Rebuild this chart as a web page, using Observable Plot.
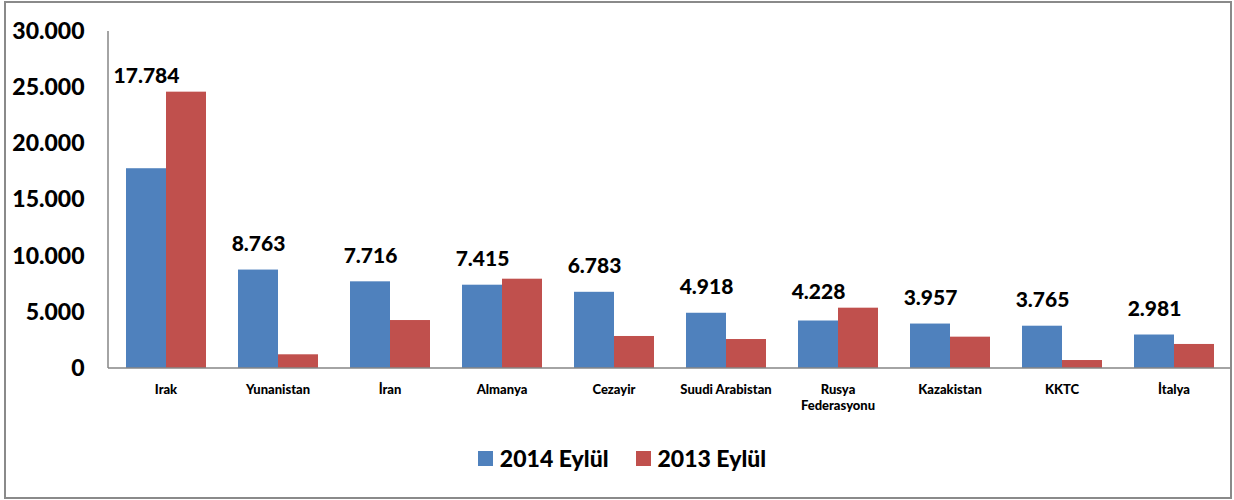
<!DOCTYPE html>
<html>
<head>
<meta charset="utf-8">
<script src="https://cdn.jsdelivr.net/npm/d3@7"></script>
<script src="https://cdn.jsdelivr.net/npm/@observablehq/plot@0.6"></script>
<style>
  body { margin: 0; background: #fff; font-family: Lato, "Open Sans", sans-serif; }
  #wrap { position: relative; width: 1234px; height: 500px; overflow: hidden; }
  #border { position: absolute; left: 4px; top: 1px; width: 1228px; height: 498px; box-sizing: border-box; border: 2px solid #8a8a8a; pointer-events: none; }
  #chart { position: absolute; left: 0; top: 0; }
  #legend { position: absolute; top: 444px; left: 0; width: 1234px; display: flex; justify-content: center; align-items: center; gap: 27px; font: 900 23px Lato, sans-serif; color: #000; padding-left: 10px; box-sizing: border-box; }
  .item { display: flex; align-items: center; gap: 7px; }
  .sw { width: 15px; height: 15px; display: inline-block; }
</style>
</head>
<body>
<div id="wrap">
  <div id="chart"></div>
  <div id="legend"></div>
  <div id="border"></div>
</div>
<script>
const countries = ["Irak", "Yunanistan", "İran", "Almanya", "Cezayir", "Suudi Arabistan", "Rusya Federasyonu", "Kazakistan", "KKTC", "İtalya"];
const series = ["2014 Eylül", "2013 Eylül"];
const colors = ["#4F81BD", "#C0504D"];
const v2014 = [17784, 8763, 7716, 7415, 6783, 4918, 4228, 3957, 3765, 2981];
const v2013 = [24600, 1220, 4270, 7950, 2850, 2580, 5370, 2790, 710, 2140];
const yTicks = [0, 5000, 10000, 15000, 20000, 25000, 30000];

const fmt = v => d3.format(",")(v).replace(/,/g, ".");

const rows = [];
countries.forEach((c, i) => {
  rows.push({country: c, series: series[0], value: v2014[i]});
  rows.push({country: c, series: series[1], value: v2013[i]});
});
const labels = countries.map((c, i) => ({country: c, series: series[0], v14: v2014[i], v13: v2013[i]}));
const tall = d => d.v13 > d.v14 * 1.2;

const plot = Plot.plot({
  width: 1234,
  height: 420,
  marginLeft: 108,
  marginRight: 4,
  marginTop: 31,
  marginBottom: 52,
  style: {fontFamily: "Lato, sans-serif", fontWeight: 900, color: "#000", background: "transparent"},
  fx: {domain: countries, paddingInner: 0.28, paddingOuter: 0.14, label: null, axis: null},
  x: {domain: series, padding: 0, axis: null},
  y: {domain: [0, 30000], axis: null},
  color: {domain: series, range: colors},
  marks: [
    Plot.barY(rows, {fx: "country", x: "series", y: "value", fill: "series", inset: 0}),
    Plot.text(labels.filter(d => !tall(d)), {fx: "country", x: "series", y: "v14", text: d => fmt(d.v14), dy: -26, lineAnchor: "middle", fontSize: 21, fontWeight: 900, fill: "#000"}),
    Plot.text(labels.filter(tall), {fx: "country", x: "series", y: "v13", text: d => fmt(d.v14), dy: -16, lineAnchor: "middle", fontSize: 21, fontWeight: 900, fill: "#000"}),
    Plot.axisY({ticks: yTicks, tickFormat: fmt, tickSize: 0, tickPadding: 41, fontSize: 23, fontWeight: 900, label: null}),
    Plot.axisFx({anchor: "bottom", tickSize: 0, tickPadding: 13, fontSize: 13, fontWeight: 900, lineHeight: 1.3, label: null,
      tickFormat: d => d === "Rusya Federasyonu" ? "Rusya\nFederasyonu" : d})
  ]
});

document.getElementById("chart").appendChild(plot);

// axis lines drawn through the library's scales
const sy = plot.scale("y");
const sfx = plot.scale("fx");
const svg = d3.select(plot);
const y0 = sy.apply(0), yTop = sy.apply(30000);
const [xL, xR] = sfx.range;
svg.append("line").attr("x1", xL).attr("x2", xL).attr("y1", yTop).attr("y2", y0).attr("stroke", "#868686").attr("stroke-width", 1.5);
svg.append("line").attr("x1", xL).attr("x2", xR).attr("y1", y0).attr("y2", y0).attr("stroke", "#868686").attr("stroke-width", 1.5);

const legend = document.getElementById("legend");
series.forEach((s, i) => {
  const it = document.createElement("div");
  it.className = "item";
  it.innerHTML = `<span class="sw" style="background:${colors[i]}"></span><span>${s}</span>`;
  legend.appendChild(it);
});
</script>
</body>
</html>
